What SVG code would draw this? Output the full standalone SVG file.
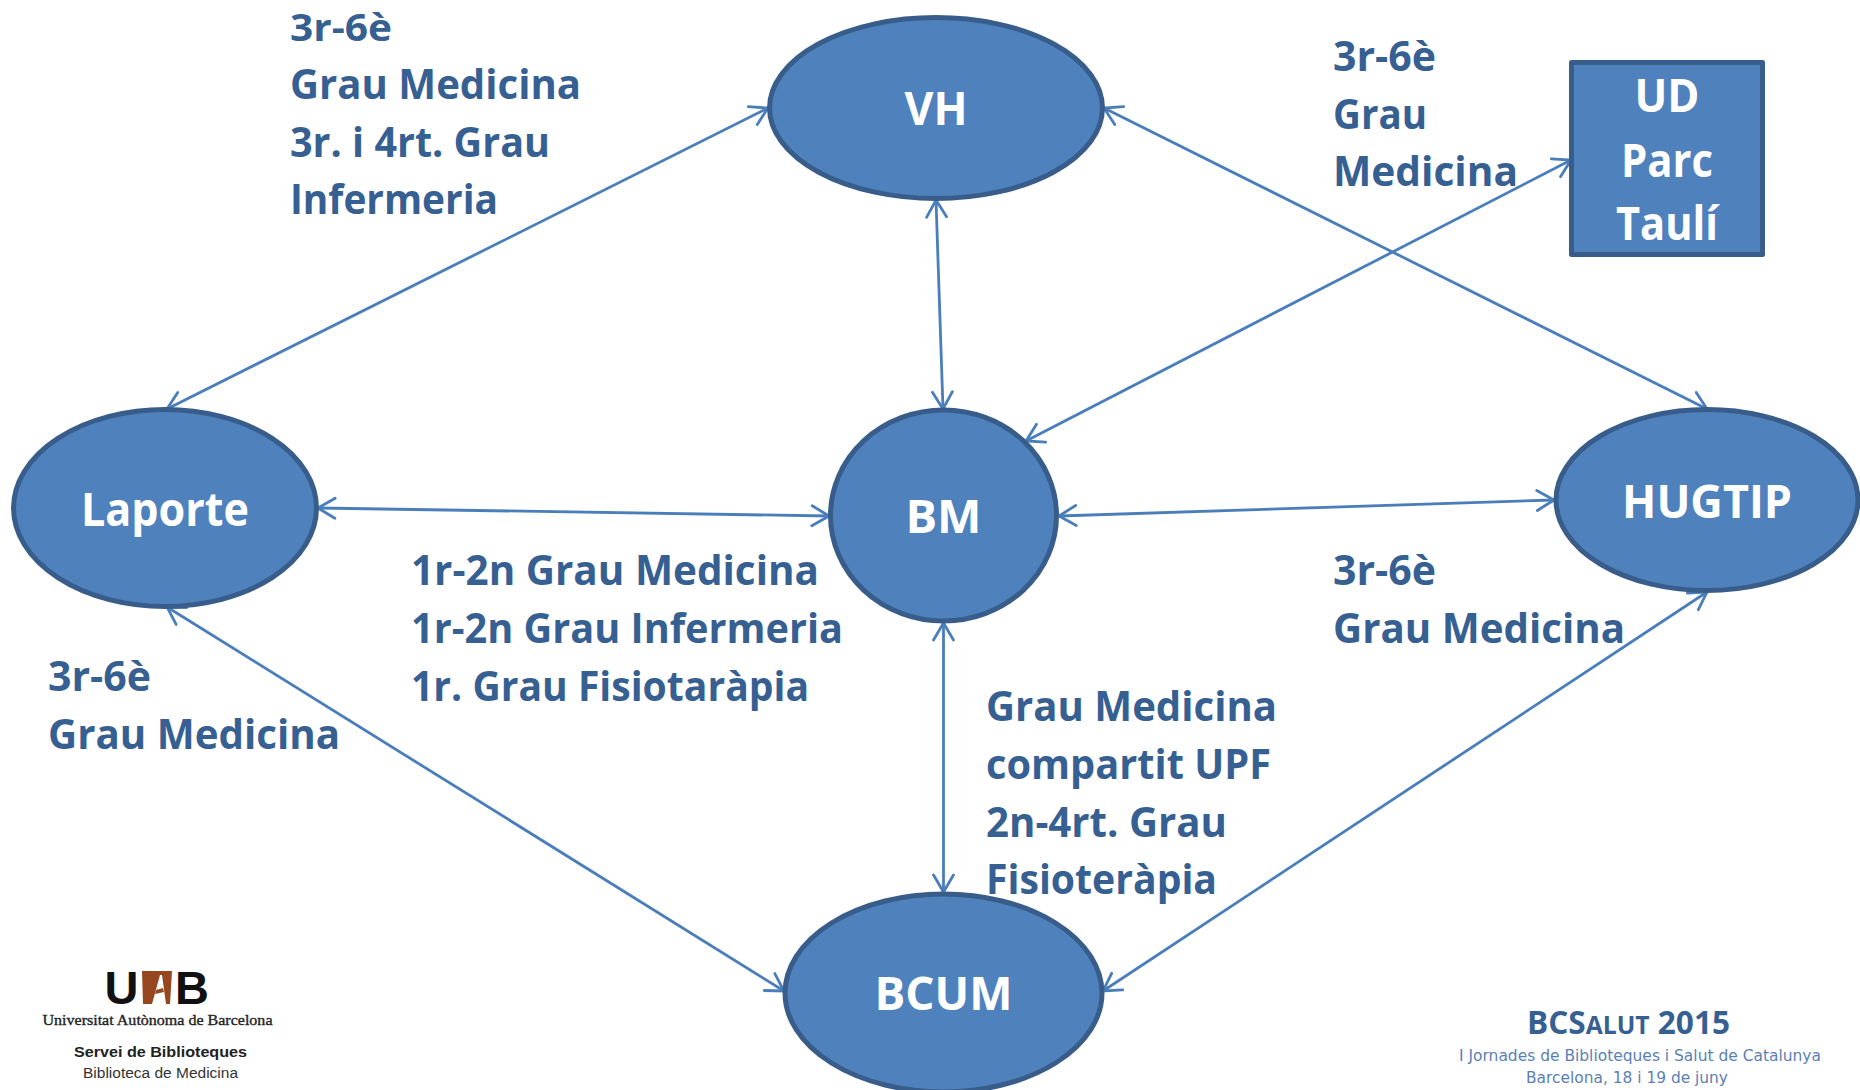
<svg xmlns="http://www.w3.org/2000/svg" width="1860" height="1090" viewBox="0 0 1860 1090">
<style>
.n{fill:#4f81bd;stroke:#385d8a;stroke-width:5;stroke-linejoin:round}
.c{stroke:#4a7ebb;stroke-width:2.800;fill:none;marker-start:url(#h);marker-end:url(#h)}
.l{font:bold 41px "Open Sans",Lato,sans-serif;fill:#376092}
.w{font:bold 46px "Open Sans",Lato,sans-serif;fill:#fff;text-anchor:middle}
</style>
<defs><marker id="h" viewBox="-19 -12 21 24" refX="0" refY="0" markerWidth="21" markerHeight="24" markerUnits="userSpaceOnUse" orient="auto-start-reverse"><path d="M-17-10L0 0L-17 10" fill="none" stroke="#4a7ebb" stroke-width="2.800" stroke-linecap="round"/></marker></defs>
<rect width="1860" height="1090" fill="#fff"/>
<g id="connectors">
<path class="c" d="M768 108L167 409"/>
<path class="c" d="M1104 108L1707 409"/>
<path class="c" d="M936 200L943 409"/>
<path class="c" d="M1571 160L1026 441"/>
<path class="c" d="M318 508L829 516"/>
<path class="c" d="M1059 516L1554 500"/>
<path class="c" d="M943.500 623L943.500 892"/>
<path class="c" d="M167 607L784 991"/>
<path class="c" d="M1707 592L1103 991"/>
</g>
<g id="VH"><ellipse class="n" cx="936" cy="108" rx="166.500" ry="90.500"/><text class="w" x="936" y="125" textLength="63" lengthAdjust="spacingAndGlyphs">VH</text></g>
<g id="BM"><ellipse class="n" cx="943.500" cy="515.500" rx="113" ry="105.500"/><text class="w" x="943.500" y="533" textLength="76" lengthAdjust="spacingAndGlyphs">BM</text></g>
<g id="Laporte"><ellipse class="n" cx="165" cy="508" rx="151.500" ry="98.500"/><text class="w" x="165" y="526" textLength="168" lengthAdjust="spacingAndGlyphs">Laporte</text></g>
<g id="HUGTIP"><ellipse class="n" cx="1707" cy="500" rx="151" ry="90.500"/><text class="w" x="1707" y="518" textLength="170" lengthAdjust="spacingAndGlyphs">HUGTIP</text></g>
<g id="BCUM"><ellipse class="n" cx="943.500" cy="993" rx="158.500" ry="99"/><text class="w" x="943.500" y="1010" textLength="138" lengthAdjust="spacingAndGlyphs">BCUM</text></g>
<g id="UD"><rect class="n" x="1571.500" y="62.500" width="191" height="192"/><text class="w" x="1667" y="112" textLength="65" lengthAdjust="spacingAndGlyphs">UD</text><text class="w" x="1667" y="177" textLength="92" lengthAdjust="spacingAndGlyphs">Parc</text><text class="w" x="1667" y="240" textLength="102" lengthAdjust="spacingAndGlyphs">Taulí</text></g>
<g id="labels">
<text class="l" x="290" y="41" textLength="102" lengthAdjust="spacingAndGlyphs" style="font-size:38px">3r-6è</text><text class="l" x="290" y="99" textLength="291" lengthAdjust="spacingAndGlyphs">Grau Medicina</text><text class="l" x="290" y="157" textLength="260" lengthAdjust="spacingAndGlyphs">3r. i 4rt. Grau</text><text class="l" x="290" y="214" textLength="208" lengthAdjust="spacingAndGlyphs">Infermeria</text>
<text class="l" x="1333" y="71" textLength="103" lengthAdjust="spacingAndGlyphs">3r-6è</text><text class="l" x="1333" y="129" textLength="94" lengthAdjust="spacingAndGlyphs">Grau</text><text class="l" x="1333" y="186" textLength="185" lengthAdjust="spacingAndGlyphs">Medicina</text>
<text class="l" x="411" y="585" textLength="408" lengthAdjust="spacingAndGlyphs">1r-2n Grau Medicina</text><text class="l" x="411" y="643" textLength="432" lengthAdjust="spacingAndGlyphs">1r-2n Grau Infermeria</text><text class="l" x="411" y="701" textLength="398" lengthAdjust="spacingAndGlyphs">1r. Grau Fisiotaràpia</text>
<text class="l" x="1333" y="585" textLength="103" lengthAdjust="spacingAndGlyphs">3r-6è</text><text class="l" x="1333" y="643" textLength="292" lengthAdjust="spacingAndGlyphs">Grau Medicina</text>
<text class="l" x="48" y="691" textLength="103" lengthAdjust="spacingAndGlyphs">3r-6è</text><text class="l" x="48" y="749" textLength="292" lengthAdjust="spacingAndGlyphs">Grau Medicina</text>
<text class="l" x="986" y="721" textLength="291" lengthAdjust="spacingAndGlyphs">Grau Medicina</text><text class="l" x="986" y="779" textLength="285" lengthAdjust="spacingAndGlyphs">compartit UPF</text><text class="l" x="986" y="837" textLength="241" lengthAdjust="spacingAndGlyphs">2n-4rt. Grau</text><text class="l" x="986" y="894" textLength="231" lengthAdjust="spacingAndGlyphs">Fisioteràpia</text>
</g>
<g id="uab">
<text x="104.500" y="1004" style="font:bold 47px 'Liberation Sans',sans-serif" fill="#111">U</text>
<path d="M142 971H172L170 1004H166L162 975H160L152 1004H143Z" fill="#97471f"/>
<path d="M156 990L163 988L164 992L155 994Z" fill="#97471f"/>
<text x="175" y="1004" style="font:bold 47px 'Liberation Sans',sans-serif" fill="#111">B</text>
<text x="42.500" y="1025" textLength="230" lengthAdjust="spacingAndGlyphs" style="font:15px 'Liberation Serif',serif;stroke:#222;stroke-width:.35" fill="#222">Universitat Autònoma de Barcelona</text>
<text x="74" y="1057" textLength="173" lengthAdjust="spacingAndGlyphs" style="font:bold 15.500px 'Liberation Sans',sans-serif" fill="#222">Servei de Biblioteques</text>
<text x="83" y="1078" textLength="155" lengthAdjust="spacingAndGlyphs" style="font:15.500px 'Liberation Sans',sans-serif" fill="#333">Biblioteca de Medicina</text>
</g>
<g id="bcsalut">
<text x="1527" y="1034" textLength="203" lengthAdjust="spacingAndGlyphs" style="font:bold 32px 'Open Sans',sans-serif" fill="#376092">BCS<tspan font-size="25">ALUT</tspan> 2015</text>
<text x="1459" y="1061" textLength="362" lengthAdjust="spacingAndGlyphs" style="font:15.500px 'DejaVu Sans',sans-serif" fill="#5b7fb5">I Jornades de Biblioteques i Salut de Catalunya</text>
<text x="1526" y="1083" textLength="202" lengthAdjust="spacingAndGlyphs" style="font:15.500px 'DejaVu Sans',sans-serif" fill="#5b7fb5">Barcelona, 18 i 19 de juny</text>
</g>
</svg>
